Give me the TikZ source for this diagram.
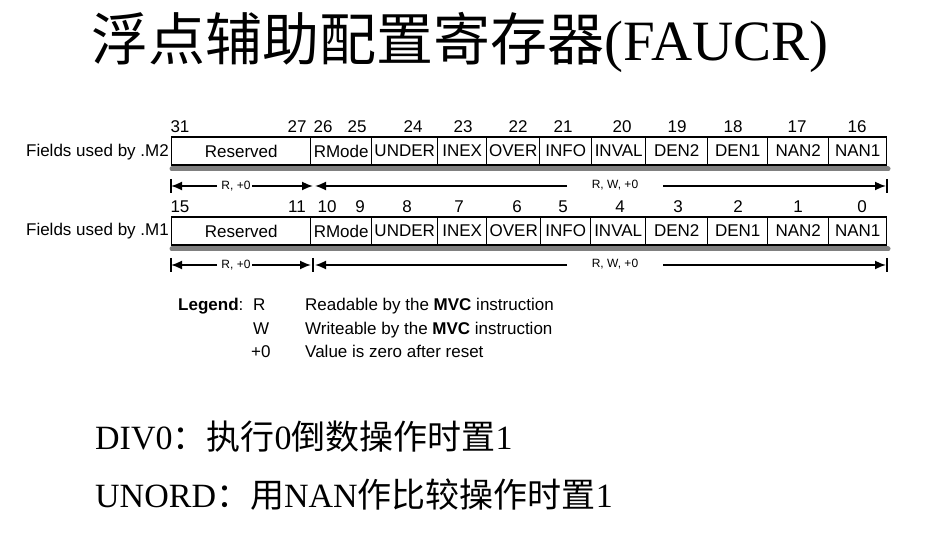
\documentclass[tikz,border=0pt]{standalone}
\usepackage{fontspec}
\setmainfont{Liberation Serif}
\newfontfamily\cjk{Noto Sans CJK SC}
\newfontfamily\arial{Liberation Sans}
\usetikzlibrary{arrows.meta}
\tikzset{
  fieldbox/.style={draw=black, line width=1.4pt, inner sep=0pt, minimum height=28pt,
     font=\arial\fontsize{17}{19}\selectfont, anchor=west},
  bitnum/.style={font=\arial\fontsize{17}{19}\selectfont, inner sep=0pt},
  rowlabel/.style={font=\arial\fontsize{17}{19}\selectfont, inner sep=0pt, anchor=east},
  graybar/.style={line width=5pt, draw={rgb,255:red,128;green,128;blue,128}, line cap=round},
  dimline/.style={line width=1.7pt, draw=black},
  dimtip/.style={-{Latex[length=11pt,width=9pt]}},
  dimbar/.style={line width=2.5pt, draw=black},
  dimtext/.style={font=\arial\fontsize{12}{14}\selectfont, inner sep=0pt},
  legtext/.style={font=\arial\fontsize{17}{19}\selectfont, inner sep=0pt, anchor=base west},
  bigtitle/.style={font=\fontsize{57}{60}\selectfont, inner sep=0pt},
  note/.style={font=\fontsize{34}{37}\selectfont, inner sep=0pt, anchor=base west},
}
\begin{document}
\begin{tikzpicture}[x=1pt,y=-1pt]
\useasboundingbox[fill=white] (0,0) rectangle (926,534);

% title
\node[bigtitle] (title) at (460,42) {{\cjk 浮点辅助配置寄存器}(FAUCR)};

% ---------- row M2 ----------
\node[rowlabel] (lab2) at (169,152) {Fields used by .M2};
\foreach \n/\a/\b/\t in {a/171/310/Reserved, b/310/371/RMode, c/371/437/UNDER, d/437/486/INEX,
   e/486/539/OVER, f/539/591/INFO, g/591/645/INVAL, h/645/707/DEN2, i/707/767/DEN1,
   j/767/828/NAN2, k/828/886/NAN1}{
  \pgfmathsetmacro{\w}{\b-\a}
  \node[fieldbox, minimum width=\w pt] (m2\n) at (\a,151) {\t};
}
\draw[graybar] (172,169) -- (888,169);
\foreach \x/\t [count=\i] in {180/31, 297/27, 323/26, 357/25, 413/24, 463/23, 518/22, 563/21, 622/20, 677/19, 733/18, 797/17, 857/16}
  \node[bitnum] (n2\i) at (\x,127) {\t};

% dimension arrows row 1
\coordinate (d1a) at (171,186);
\coordinate (d1b) at (313,186);
\coordinate (d1c) at (315,186);
\coordinate (d1d) at (886,186);
\coordinate (s1a) at (217,186);
\coordinate (s1b) at (252,186);
\coordinate (s1c) at (567,186);
\coordinate (s1d) at (663,186);
\node[dimtext] (t1a) at (236,186) {R, +0};
\node[dimtext] (t1b) at (615,185) {R, W, +0};
\draw[dimline, dimtip] (s1a) -- (d1a);
\draw[dimline, dimtip] (s1b) -- (d1b);
\draw[dimline, dimtip] (s1c) -- (d1c);
\draw[dimline, dimtip] (s1d) -- (d1d);
\draw[dimbar] (171,179) -- (171,193);
\draw[dimbar] (887,179) -- (887,193);

% ---------- row M1 ----------
\node[rowlabel] (lab1) at (169,231) {Fields used by .M1};
\foreach \n/\a/\b/\t in {a/171/310/Reserved, b/310/371/RMode, c/371/437/UNDER, d/437/486/INEX,
   e/486/540/OVER, f/540/590/INFO, g/590/645/INVAL, h/645/707/DEN2, i/707/767/DEN1,
   j/767/828/NAN2, k/828/886/NAN1}{
  \pgfmathsetmacro{\w}{\b-\a}
  \node[fieldbox, minimum width=\w pt] (m1\n) at (\a,231) {\t};
}
\draw[graybar] (172,249) -- (888,249);
\foreach \x/\t [count=\i] in {180/15, 297/11, 327/10, 360/9, 407/8, 459/7, 517/6, 563/5, 620/4, 678/3, 738/2, 798/1, 862/0}
  \node[bitnum] (n1\i) at (\x,207) {\t};

% dimension arrows row 2
\coordinate (d2a) at (171,265);
\coordinate (d2b) at (311,265);
\coordinate (d2c) at (315,265);
\coordinate (d2d) at (886,265);
\coordinate (s2a) at (217,265);
\coordinate (s2b) at (252,265);
\coordinate (s2c) at (567,265);
\coordinate (s2d) at (663,265);
\node[dimtext] (t2a) at (236,265) {R, +0};
\node[dimtext] (t2b) at (615,264) {R, W, +0};
\draw[dimline, dimtip] (s2a) -- (d2a);
\draw[dimline, dimtip] (s2b) -- (d2b);
\draw[dimline, dimtip] (s2c) -- (d2c);
\draw[dimline, dimtip] (s2d) -- (d2d);
\draw[dimbar] (171,258) -- (171,272);
\draw[dimbar] (313,258) -- (313,272);
\draw[dimbar] (887,258) -- (887,272);

% legend
\node[legtext] (leg) at (178,311) {\textbf{Legend}:};
\node[legtext] (lr) at (253,311) {R};
\node[legtext] (lw) at (253,335) {W};
\node[legtext] (lz) at (251,358) {+0};
\node[legtext] (dr) at (305,311) {Readable by the \textbf{MVC} instruction};
\node[legtext] (dw) at (305,335) {Writeable by the \textbf{MVC} instruction};
\node[legtext] (dz) at (305,358) {Value is zero after reset};

% notes
\node[note] (div) at (95,449) {DIV0{\cjk ：执行}0{\cjk 倒数操作时置}1};
\node[note] (uno) at (95,507) {UNORD{\cjk ：用}NAN{\cjk 作比较操作时置}1};
\end{tikzpicture}
\end{document}
